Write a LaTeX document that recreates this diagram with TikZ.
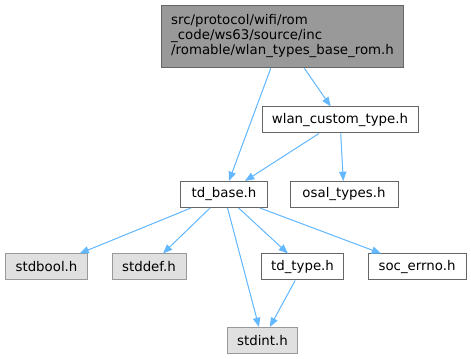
\documentclass[tikz,border=0pt]{standalone}
\usepackage{fontspec}
\setmainfont{DejaVu Sans}
\usepackage{tikz}
\usetikzlibrary{arrows.meta,positioning,calc}
\definecolor{edgeblue}{HTML}{63B8FF}
\definecolor{boxline}{HTML}{666666}
\definecolor{sysline}{HTML}{999999}
\definecolor{sysfill}{HTML}{E0E0E0}
\definecolor{rootfill}{HTML}{999999}
\tikzset{
  incbox/.style={draw=boxline, fill=white, line width=0.75pt, inner sep=0pt, minimum height=19.5pt, font=\fontsize{10}{11.25}\selectfont},
  sysbox/.style={incbox, draw=sysline, fill=sysfill},
  rootbox/.style={incbox, fill=rootfill, align=left, inner xsep=6pt},
  incline/.style={-{Triangle[length=7pt,width=5.5pt]}, draw=edgeblue, fill=edgeblue, line width=0.75pt}
}
\begin{document}
\begin{tikzpicture}[x=0.75pt, y=-0.75pt]
  \useasboundingbox (0,0) rectangle (471,359);
  \node[rootbox, minimum width=182pt, minimum height=47pt] (root) at (282.5,36.5) {src/protocol/wifi/rom\\\_code/ws63/source/inc\\/romable/wlan\_types\_base\_rom.h};
  \node[incbox, minimum width=117pt] (custom) at (340,120) {wlan\_custom\_type.h};
  \node[incbox, minimum width=65pt] (tdbase) at (224,194.5) {td\_base.h};
  \node[incbox, minimum width=81pt] (osal) at (344,194.5) {osal\_types.h};
  \node[sysbox, minimum width=62pt] (stdbool) at (46.5,267) {stdbool.h};
  \node[sysbox, minimum width=55.5pt] (stddef) at (149,267) {stddef.h};
  \node[incbox, minimum width=62pt] (tdtype) at (302.5,267) {td\_type.h};
  \node[incbox, minimum width=73.5pt] (errno) at (417,267) {soc\_errno.h};
  \node[sysbox, minimum width=53pt] (stdint) at (262.5,340.5) {stdint.h};
  \draw[incline] (root) -- (tdbase);
  \draw[incline] (root) -- (custom);
  \draw[incline] (custom) -- (tdbase);
  \draw[incline] (custom) -- (osal);
  \draw[incline] (tdbase) -- (stdbool);
  \draw[incline] (tdbase) -- (stddef);
  \draw[incline] (tdbase) -- (stdint);
  \draw[incline] (tdbase) -- (tdtype);
  \draw[incline] (tdbase) -- (errno);
  \draw[incline] (tdtype) -- (stdint);
\end{tikzpicture}
\end{document}
